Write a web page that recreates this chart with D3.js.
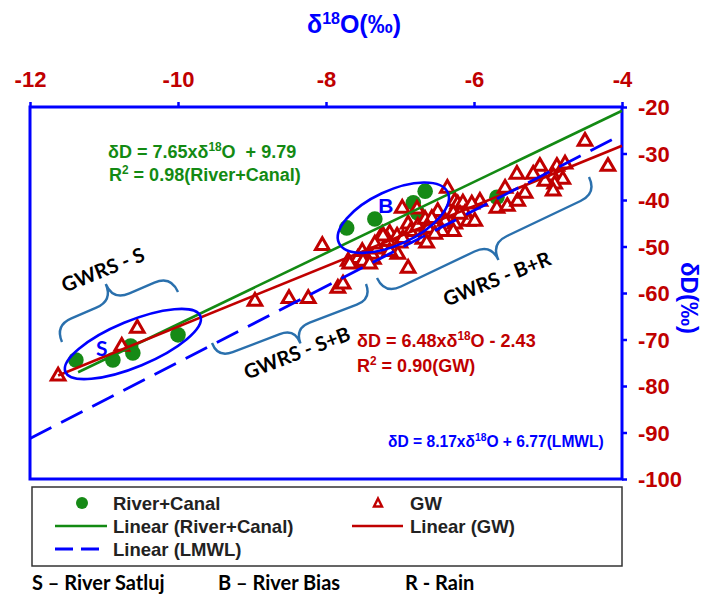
<!DOCTYPE html>
<html>
<head>
<meta charset="utf-8">
<script src="https://cdn.jsdelivr.net/npm/d3@7"></script>
<style>
  body { margin: 0; background: #fff; }
  svg { display: block; }
  .num { font-family: "Liberation Sans", Arial, sans-serif; font-weight: bold; }
  .cal { font-family: Lato, "Open Sans", sans-serif; font-weight: bold; }
</style>
</head>
<body>
<svg id="chart" width="702" height="598"></svg>
<script>
// Axis ticks
const xTicks = [-12, -10, -8, -6, -4];
const yTicks = [-20, -30, -40, -50, -60, -70, -80, -90, -100];

// River + canal samples (δ18O, δD)
const riverD18O = [-11.38, -10.88, -10.64, -10.61, -10.00, -7.72, -7.34, -6.82, -6.76, -6.66, -5.69];
const riverDD   = [-74.4, -74.4, -71.4, -72.9, -69.0, -46.0, -44.1, -40.6, -42.8, -38.1, -39.4];

// Groundwater samples (δ18O, δD)
const gwD18O = [-11.62, -10.76, -10.55, -8.96, -8.50, -8.24, -8.05, -7.84, -7.77, -7.70,
                -7.57, -7.68, -7.51, -7.36, -7.38, -7.31, -7.51, -7.27, -7.24, -7.14,
                -7.16, -7.04, -7.00, -7.03, -6.89, -6.89, -6.86, -6.97, -6.77, -6.76,
                -6.66, -6.64, -6.36, -6.26, -6.22, -6.15, -6.28, -6.12, -6.49, -6.57,
                -6.39, -6.26, -6.08, -5.99, -5.92, -6.28, -6.43, -6.62, -5.58, -5.69,
                -5.55, -5.41, -5.42, -6.03, -4.50, -4.19, -5.11, -5.20, -4.88, -4.77,
                -4.93, -5.04, -4.80, -4.91, -4.93, -5.31, -6.53, -6.96, -7.23, -7.34,
                -7.14, -6.69, -6.64, -7.50, -7.41, -6.19];
const gwDD   = [-77.6, -71.2, -67.3, -61.5, -60.9, -60.9, -49.5, -58.7, -57.8, -52.9,
                -52.3, -53.5, -53.3, -52.5, -51.4, -50.3, -50.8, -48.6, -47.1, -46.9,
                -48.6, -47.5, -49.0, -51.4, -54.4, -44.9, -46.5, -41.5, -41.7, -45.4,
                -43.9, -46.0, -37.2, -40.0, -40.6, -40.4, -42.6, -42.6, -42.2, -43.7,
                -44.3, -44.9, -44.3, -44.3, -40.0, -46.5, -46.5, -45.8, -37.2, -41.5,
                -41.1, -40.0, -34.2, -40.6, -27.1, -32.5, -32.5, -34.2, -32.5, -32.0,
                -34.6, -35.7, -35.3, -36.3, -37.8, -38.3, -47.1, -48.0, -47.5, -49.2,
                -50.8, -48.2, -49.0, -52.9, -53.5, -42.8];

// Linear fits: δD = slope·δ18O + intercept
const fitNames      = ["River+Canal", "GW", "LMWL"];
const fitSlopes     = [7.65, 6.48, 8.17];
const fitIntercepts = [9.79, -2.43, 6.77];
const fitFrom       = [-11.35, -11.62, -12];
const fitTo         = [-4, -4, -4];

const BLUE = "#0000ff", RED = "#c00000", GREEN = "#138a13", BRACE = "#2a70ad";

const svg = d3.select("#chart");
const x = d3.scaleLinear().domain([-12, -4]).range([30, 622]);
const y = d3.scaleLinear().domain([-100, -20]).range([479, 107]);

// Title and axis names
const title = svg.append("text").attr("class", "num").attr("x", 354).attr("y", 33)
  .attr("text-anchor", "middle").attr("fill", BLUE).attr("font-size", 25);
title.append("tspan").text("δ");
title.append("tspan").text("18").attr("font-size", 16).attr("dy", -9);
title.append("tspan").text("O(‰)").attr("dy", 9);

svg.append("text").attr("class", "num")
  .attr("transform", "translate(681,298) rotate(90)")
  .attr("text-anchor", "middle").attr("fill", BLUE).attr("font-size", 24)
  .text("δD(‰)");

// Axes
const fmt = d => String(d);
const topAxis = svg.append("g").attr("transform", "translate(0,107)")
  .call(d3.axisTop(x).tickValues(xTicks).tickSize(5).tickPadding(15).tickFormat(fmt));
const rightAxis = svg.append("g").attr("transform", "translate(622,0)")
  .call(d3.axisRight(y).tickValues(yTicks).tickSize(5).tickPadding(11).tickFormat(fmt));
[topAxis, rightAxis].forEach(a => {
  a.select(".domain").remove();
  a.selectAll(".tick line").attr("stroke", BLUE).attr("stroke-width", 2.5);
  a.selectAll(".tick text").attr("class", "num").attr("fill", RED).attr("font-size", 22);
});
rightAxis.selectAll(".tick text").attr("dy", "0.36em");

// Plot frame
svg.append("rect").attr("x", x(-12)).attr("y", y(-20))
  .attr("width", x(-4) - x(-12)).attr("height", y(-100) - y(-20))
  .attr("fill", "none").attr("stroke", BLUE).attr("stroke-width", 3);

// River + canal points
const river = riverD18O.map((v, i) => [v, riverDD[i]]);
svg.append("g").selectAll("circle").data(river).join("circle")
  .attr("cx", d => x(d[0])).attr("cy", d => y(d[1])).attr("r", 7.8)
  .attr("fill", "#168a16");

// Groundwater points
const gw = gwD18O.map((v, i) => [v, gwDD[i]]);
const tri = "M0,-6.5L6.8,5.2L-6.8,5.2Z";
svg.append("g").selectAll("path").data(gw).join("path")
  .attr("d", tri)
  .attr("transform", d => `translate(${x(d[0])},${y(d[1])})`)
  .attr("fill", "#fff").attr("stroke", RED).attr("stroke-width", 3)
  .attr("stroke-linejoin", "miter");

// Trend lines
const fitColors = [GREEN, RED, BLUE];
const fitDash = [null, null, "24,11"];
const fitWidth = [2.6, 2.6, 2.8];
fitNames.forEach((n, i) => {
  const f = v => fitSlopes[i] * v + fitIntercepts[i];
  svg.append("line")
    .attr("x1", x(fitFrom[i])).attr("y1", y(f(fitFrom[i])))
    .attr("x2", x(fitTo[i])).attr("y2", y(f(fitTo[i])))
    .attr("stroke", fitColors[i]).attr("stroke-width", fitWidth[i])
    .attr("stroke-dasharray", fitDash[i]);
});

// Source groupings (ellipses)
function ellipse(cx, cy, rx, ry, angle) {
  svg.append("ellipse")
    .attr("transform", `translate(${x(cx)},${y(cy)}) rotate(${angle})`)
    .attr("rx", rx).attr("ry", ry)
    .attr("fill", "none").attr("stroke", BLUE).attr("stroke-width", 2.6);
}
ellipse(-10.61, -70.97, 73, 23, -22.5);
ellipse(-7.09, -43.8, 60, 27, -25);

svg.append("text").attr("class", "cal").attr("x", x(-11.03)).attr("y", y(-73.6))
  .attr("text-anchor", "middle").attr("fill", BLUE).attr("font-size", 21)
  .attr("font-weight", "normal").text("S");
svg.append("text").attr("class", "num").attr("x", x(-7.19)).attr("y", y(-42.8))
  .attr("text-anchor", "middle").attr("fill", BLUE).attr("font-size", 21)
  .attr("font-weight", "normal").text("B");

// Curly braces marking recharge-source groups
function brace(x1, y1, x2, y2, h, s) {
  const L = Math.hypot(x2 - x1, y2 - y1);
  const ang = Math.atan2(y2 - y1, x2 - x1) * 180 / Math.PI;
  const a = s * h, m = L / 2;
  const d = `M0,0Q0,${a} ${h},${a}L${m - h},${a}Q${m},${a} ${m},${2 * a}` +
            `Q${m},${a} ${m + h},${a}L${L - h},${a}Q${L},${a} ${L},0`;
  svg.append("path").attr("d", d)
    .attr("transform", `translate(${x1},${y1}) rotate(${ang})`)
    .attr("fill", "none").attr("stroke", BRACE).attr("stroke-width", 2.4);
}
brace(62, 342, 178, 292, 18, -1);
brace(212, 343, 366, 284, 16, 1);
brace(377, 278, 589, 177, 18, 1);

function groupLabel(cx, cy, ang, t) {
  svg.append("text").attr("class", "cal")
    .attr("transform", `translate(${cx},${cy}) rotate(${ang})`)
    .attr("text-anchor", "middle").attr("dy", "0.35em")
    .attr("fill", "#000").attr("font-size", 20).text(t);
}
groupLabel(103, 270, -22, "GWRS - S");
groupLabel(297, 353, -21, "GWRS - S+B");
groupLabel(497, 279, -22, "GWRS - B+R");

// Regression equations
function eq(x0, y0, color, size, parts) {
  const t = svg.append("text").attr("class", "num").attr("x", x0).attr("y", y0)
    .attr("fill", color).attr("font-size", size);
  let up = false;
  parts.forEach(p => {
    const sup = p[1];
    const ts = t.append("tspan").text(p[0]).attr("xml:space", "preserve");
    if (sup && !up) { ts.attr("font-size", size * 0.66).attr("dy", -size * 0.4); up = true; }
    else if (!sup && up) { ts.attr("dy", size * 0.4); up = false; }
  });
}
eq(108, 158, GREEN, 18, [["δD = 7.65xδ"], ["18", 1], ["O  + 9.79"]]);
eq(109, 181, GREEN, 18, [["R"], ["2", 1], [" = 0.98(River+Canal)"]]);
eq(357, 347, RED, 18, [["δD = 6.48xδ"], ["18", 1], ["O - 2.43"]]);
eq(357, 372, RED, 18, [["R"], ["2", 1], [" = 0.90(GW)"]]);
eq(388, 447, BLUE, 15.6, [["δD = 8.17xδ"], ["18", 1], ["O + 6.77(LMWL)"]]);

// Legend
const lg = svg.append("g");
lg.append("rect").attr("x", 32).attr("y", 487).attr("width", 590).attr("height", 79)
  .attr("fill", "#fff").attr("stroke", "#333").attr("stroke-width", 1.5);
const rows = [503, 526, 549];
lg.append("circle").attr("cx", 82).attr("cy", rows[0]).attr("r", 6).attr("fill", "#168a16");
lg.append("path").attr("d", "M0,-4.5L4,3.5L-4,3.5Z").attr("transform", `translate(378,${rows[0]})`)
  .attr("fill", "#fff").attr("stroke", RED).attr("stroke-width", 2.4);
lg.append("line").attr("x1", 55).attr("x2", 107).attr("y1", rows[1]).attr("y2", rows[1])
  .attr("stroke", GREEN).attr("stroke-width", 2.6);
lg.append("line").attr("x1", 352).attr("x2", 403).attr("y1", rows[1]).attr("y2", rows[1])
  .attr("stroke", RED).attr("stroke-width", 2.6);
lg.append("line").attr("x1", 55).attr("x2", 107).attr("y1", rows[2]).attr("y2", rows[2])
  .attr("stroke", BLUE).attr("stroke-width", 2.8).attr("stroke-dasharray", "18,8");
const legendText = [
  [113, rows[0], "River+Canal"], [410, rows[0], "GW"],
  [113, rows[1], "Linear (River+Canal)"], [410, rows[1], "Linear (GW)"],
  [113, rows[2], "Linear (LMWL)"]
];
legendText.forEach(d => lg.append("text").attr("class", "num")
  .attr("x", d[0]).attr("y", d[1]).attr("dy", "0.36em")
  .attr("fill", "#222").attr("font-size", 18.5).text(d[2]));

// Source key
[[32, "S – River Satluj"], [218, "B – River Bias"], [405, "R - Rain"]].forEach(d =>
  svg.append("text").attr("class", "cal").attr("x", d[0]).attr("y", 590)
    .attr("fill", "#000").attr("font-size", 20).text(d[1]));
</script>
</body>
</html>
